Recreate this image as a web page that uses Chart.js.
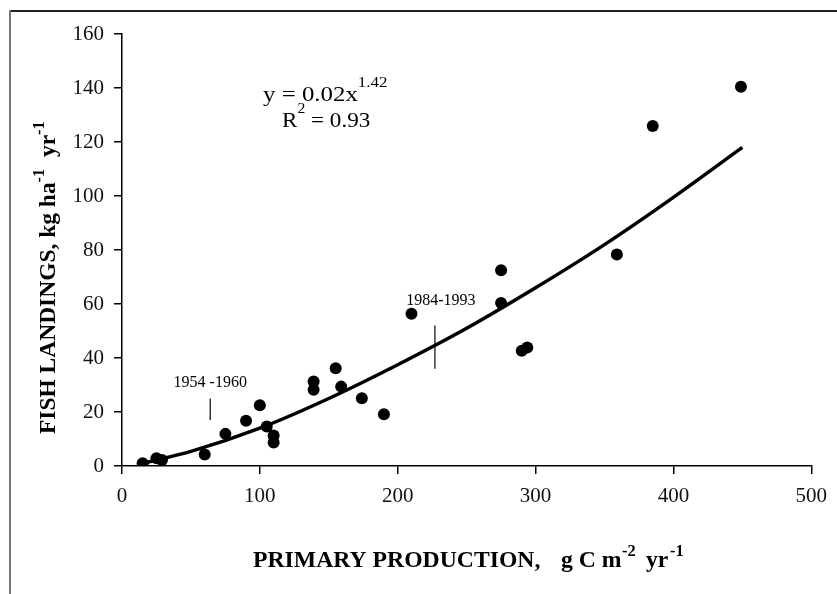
<!DOCTYPE html>
<html>
<head>
<meta charset="utf-8">
<script src="https://cdn.jsdelivr.net/npm/chart.js@4/dist/chart.umd.min.js"></script>
<style>
  html, body { margin: 0; padding: 0; background: #fff; }
  canvas { display: block; }
</style>
</head>
<body>
<canvas id="chart" width="837" height="594"></canvas>
<script>
// Primary production (g C m-2 yr-1) vs fish landings (kg ha-1 yr-1)
const productionX = [15, 25, 29, 60, 75, 90, 100, 105, 110, 110, 139, 139, 155, 159, 174, 190, 210, 275, 275, 290, 294, 359, 385, 449];
const landingsY = [1, 2.9, 2.2, 4.3, 11.9, 16.8, 22.5, 14.6, 11.3, 8.7, 31.3, 28.2, 36.2, 29.4, 25.1, 19.2, 56.4, 60.4, 72.5, 42.7, 43.9, 78.3, 125.9, 140.5];

// Fitted power curve
const trendX = [15, 50, 100, 150, 200, 250, 300, 350, 400, 450];
const trendY = [1, 5.4, 14, 25, 37.5, 51, 66, 82, 99.5, 118];

// Period markers (vertical strokes)
const periodLabels = ['1954 -1960', '1984-1993'];
const periodX = [64, 227];
const periodLow = [17, 36];
const periodHigh = [25, 52];

const xTicks = [0, 100, 200, 300, 400, 500];
const yTicks = [0, 20, 40, 60, 80, 100, 120, 140, 160];

const SERIF = '"Liberation Serif", "Times New Roman", serif';

const toPoints = (xs, ys) => xs.map((x, i) => ({x: x, y: ys[i]}));

const markerSets = periodX.map((x, i) => ({
    data: [{x: x, y: periodLow[i]}, {x: x, y: periodHigh[i]}],
    showLine: true,
    borderColor: '#000',
    borderWidth: 1.2,
    pointRadius: 0
}));

// Draw a run of text pieces left to right, some raised as superscripts.
// A piece may carry its own x (absolute) to reproduce the wide spacing of the original.
function drawRich(ctx, parts, x, y, stretch) {
    const sx = stretch || 1;
    ctx.save();
    ctx.translate(x, y);
    ctx.scale(sx, 1);
    let cx = 0;
    parts.forEach(p => {
        ctx.font = p.font;
        if (p.at !== undefined) cx = (p.at - x) / sx;
        ctx.fillText(p.t, cx, p.dy || 0);
        cx += ctx.measureText(p.t).width;
    });
    ctx.restore();
}

const textPlugin = {
    id: 'texts',
    beforeDraw(chart) {
        const ctx = chart.ctx;
        ctx.save();
        // frame (top and left edge of the cropped figure)
        ctx.strokeStyle = '#222';
        ctx.lineWidth = 2;
        ctx.beginPath();
        ctx.moveTo(10, 11);
        ctx.lineTo(837, 11);
        ctx.stroke();
        ctx.strokeStyle = '#777';
        ctx.beginPath();
        ctx.moveTo(10, 10);
        ctx.lineTo(10, 594);
        ctx.stroke();
        ctx.restore();
    },
    afterDraw(chart) {
        const ctx = chart.ctx;
        const xs = chart.scales.x;
        ctx.save();
        ctx.fillStyle = '#000';
        ctx.textBaseline = 'alphabetic';
        ctx.textAlign = 'left';

        const big = 'bold 23px ' + SERIF;
        const sup = 'bold 16px ' + SERIF;

        // x axis title
        drawRich(ctx, [
            {t: 'PRIMARY PRODUCTION,', font: big},
            {t: 'g C m', font: big, at: 561},
            {t: '-2', font: sup, dy: -11, at: 622},
            {t: 'yr', font: big, at: 646},
            {t: '-1', font: sup, dy: -11, at: 670}
        ], 253, 567, 1.03);

        // y axis title
        ctx.save();
        ctx.translate(55, 434);
        ctx.rotate(-Math.PI / 2);
        drawRich(ctx, [
            {t: 'FISH LANDINGS, kg ha', font: big},
            {t: '-1', font: sup, dy: -11},
            {t: '  yr', font: big},
            {t: '-1', font: sup, dy: -11}
        ], 0, 0, 1.02);
        ctx.restore();

        // equation
        const eq = '22px ' + SERIF;
        const eqSup = '15px ' + SERIF;
        drawRich(ctx, [
            {t: 'y = 0.02x', font: eq},
            {t: '1.42', font: eqSup, dy: -14}
        ], 263, 101, 1.13);
        drawRich(ctx, [
            {t: 'R', font: eq},
            {t: '2', font: eqSup, dy: -14},
            {t: ' = 0.93', font: eq}
        ], 282, 127, 1.05);

        // period labels
        ctx.font = '16px ' + SERIF;
        ctx.textAlign = 'center';
        ctx.fillText(periodLabels[0], xs.getPixelForValue(periodX[0]), 387);
        ctx.fillText(periodLabels[1], xs.getPixelForValue(periodX[1]) + 6, 305);
        ctx.restore();
    }
};

const axisTickFont = {family: SERIF, size: 21};

new Chart(document.getElementById('chart'), {
    type: 'scatter',
    data: {
        datasets: [
            {
                data: toPoints(productionX, landingsY),
                backgroundColor: '#000',
                borderWidth: 0,
                pointRadius: 6,
                pointHoverRadius: 6
            },
            {
                data: toPoints(trendX, trendY),
                showLine: true,
                borderColor: '#000',
                borderWidth: 3.5,
                pointRadius: 0,
                cubicInterpolationMode: 'monotone'
            },
            ...markerSets
        ]
    },
    options: {
        responsive: false,
        animation: false,
        devicePixelRatio: 1,
        layout: {padding: {top: 34, right: 21, left: 0, bottom: 0}},
        plugins: {
            legend: {display: false},
            tooltip: {enabled: false}
        },
        scales: {
            x: {
                type: 'linear',
                min: 0,
                max: 500,
                afterFit: s => { s.height = 128; },
                afterBuildTicks: s => { s.ticks = xTicks.map(v => ({value: v})); },
                ticks: {color: '#111', font: axisTickFont, padding: 10},
                grid: {drawOnChartArea: false, drawTicks: true, tickLength: 8, color: '#000', lineWidth: 1.5},
                border: {display: true, color: '#000', width: 1.5}
            },
            y: {
                type: 'linear',
                min: 0,
                max: 160,
                afterFit: s => { s.width = 122; },
                afterBuildTicks: s => { s.ticks = yTicks.map(v => ({value: v})); },
                ticks: {color: '#111', font: axisTickFont, padding: 10},
                grid: {drawOnChartArea: false, drawTicks: true, tickLength: 8, color: '#000', lineWidth: 1.5},
                border: {display: true, color: '#000', width: 1.5}
            }
        }
    },
    plugins: [textPlugin]
});
</script>
</body>
</html>
